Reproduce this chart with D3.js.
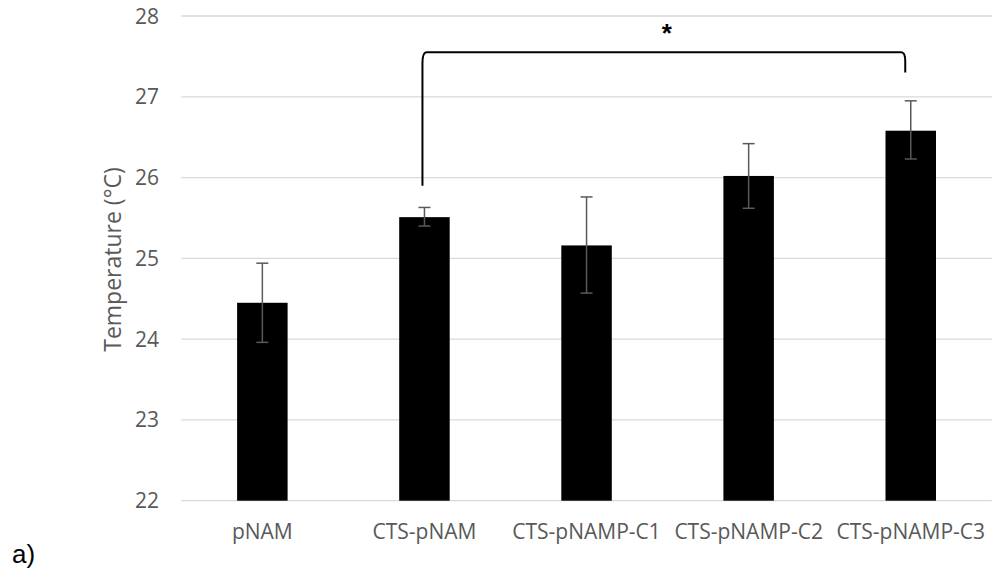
<!DOCTYPE html>
<html>
<head>
<meta charset="utf-8">
<script src="https://cdn.jsdelivr.net/npm/d3@7"></script>
<style>
  html, body { margin: 0; padding: 0; background: #fff; }
  svg { display: block; }
  .lbl { font-family: "Open Sans", sans-serif; fill: #595959; }
</style>
</head>
<body>
<svg id="chart" width="995" height="571"></svg>
<script>
// Mean temperature per sample with standard deviation bounds
const categories = ["pNAM", "CTS-pNAM", "CTS-pNAMP-C1", "CTS-pNAMP-C2", "CTS-pNAMP-C3"];
const means = [24.45, 25.51, 25.16, 26.02, 26.58];
const errLow = [23.96, 25.40, 24.57, 25.62, 26.23];
const errHigh = [24.94, 25.63, 25.76, 26.42, 26.95];
const yTicks = [22, 23, 24, 25, 26, 27, 28];

// Significance bracket between two groups (values in °C)
const bracketFrom = "CTS-pNAM";
const bracketTo = "CTS-pNAMP-C3";
const bracketLeftStart = 25.90;
const bracketTopLevel = 27.55;
const bracketRightEnd = 27.30;
const bracketMark = "*";

const svg = d3.select("#chart");

const x = d3.scaleBand()
  .domain(categories)
  .range([181.3, 991.8])
  .paddingInner(0.6885)
  .paddingOuter(0.34425);

const y = d3.scaleLinear()
  .domain([22, 28])
  .range([500.7, 16]);

// Horizontal gridlines
svg.append("g")
  .selectAll("line")
  .data(yTicks)
  .join("line")
  .attr("x1", 181.3)
  .attr("x2", 991.8)
  .attr("y1", d => y(d))
  .attr("y2", d => y(d))
  .attr("stroke", "#d9d9d9")
  .attr("stroke-width", 1.3);

// Y tick labels
svg.append("g")
  .selectAll("text")
  .data(yTicks)
  .join("text")
  .attr("class", "lbl")
  .attr("x", 159)
  .attr("y", d => y(d))
  .attr("dy", "0.36em")
  .attr("text-anchor", "end")
  .attr("font-size", 21)
  .text(d => d);

// Y axis title
svg.append("text")
  .attr("class", "lbl")
  .attr("transform", "translate(121,259.5) rotate(-90)")
  .attr("text-anchor", "middle")
  .attr("font-size", 23)
  .text("Temperature (°C)");

// Bars
svg.append("g")
  .selectAll("rect")
  .data(categories)
  .join("rect")
  .attr("x", d => x(d))
  .attr("width", x.bandwidth())
  .attr("y", (d, i) => y(means[i]))
  .attr("height", (d, i) => y(22) - y(means[i]))
  .attr("fill", "#000");

// Error bars
const eb = svg.append("g").attr("stroke", "#595959").attr("stroke-width", 1.5).attr("fill", "none");
categories.forEach((c, i) => {
  const cx = x(c) + x.bandwidth() / 2;
  eb.append("line").attr("x1", cx).attr("x2", cx).attr("y1", y(errLow[i])).attr("y2", y(errHigh[i]));
  eb.append("line").attr("x1", cx - 6).attr("x2", cx + 6).attr("y1", y(errLow[i])).attr("y2", y(errLow[i]));
  eb.append("line").attr("x1", cx - 6).attr("x2", cx + 6).attr("y1", y(errHigh[i])).attr("y2", y(errHigh[i]));
});

// X category labels
svg.append("g")
  .selectAll("text")
  .data(categories)
  .join("text")
  .attr("class", "lbl")
  .attr("x", d => x(d) + x.bandwidth() / 2)
  .attr("y", 539)
  .attr("text-anchor", "middle")
  .attr("font-size", 21)
  .text(d => d);

// Significance bracket
const xl = x(bracketFrom) + x.bandwidth() / 2 - 2;
const xr = x(bracketTo) + x.bandwidth() / 2 - 5.5;
const yt = y(bracketTopLevel);
const bracketPath = d3.path();
bracketPath.moveTo(xl, y(bracketLeftStart));
bracketPath.lineTo(xl, yt + 11);
bracketPath.quadraticCurveTo(xl, yt, xl + 4, yt);
bracketPath.lineTo(xr - 4, yt);
bracketPath.quadraticCurveTo(xr, yt, xr, yt + 9);
bracketPath.lineTo(xr, y(bracketRightEnd));
svg.append("path")
  .attr("d", bracketPath.toString())
  .attr("fill", "none")
  .attr("stroke", "#000")
  .attr("stroke-width", 2);

svg.append("text")
  .attr("x", (xl + xr) / 2 + 3)
  .attr("y", 42)
  .attr("text-anchor", "middle")
  .attr("font-family", "'Liberation Sans', Arial, sans-serif")
  .attr("font-size", 26)
  .attr("font-weight", "bold")
  .attr("fill", "#000")
  .text(bracketMark);

// Panel letter
svg.append("text")
  .attr("x", 12)
  .attr("y", 563)
  .attr("font-family", "'Liberation Sans', Arial, sans-serif")
  .attr("font-size", 26)
  .attr("fill", "#000")
  .text("a)");
</script>
</body>
</html>
